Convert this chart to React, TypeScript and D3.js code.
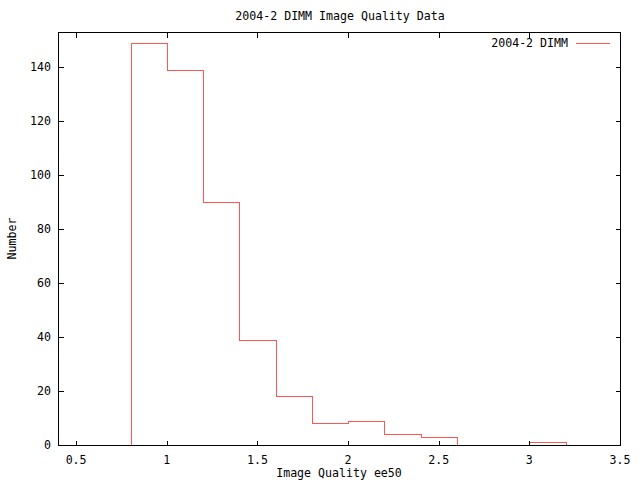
import React from "react";
import * as d3 from "d3";

const binStarts = [0.8, 1.0, 1.2, 1.4, 1.6, 1.8, 2.0, 2.2, 2.4, 2.6, 2.8, 3.0];
const binCounts = [149, 139, 90, 39, 18, 8, 9, 4, 3, 0, 0, 1];
const binWidth = 0.2;
const xTicks = [0.5, 1, 1.5, 2, 2.5, 3, 3.5];
const yTicks = [0, 20, 40, 60, 80, 100, 120, 140];

const W = 640, H = 480;
const M = { left: 58, right: 620, top: 32, bottom: 445 };
const FONT = "'DejaVu Sans Mono', monospace";

export default function App() {
  const x = d3.scaleLinear().domain([0.4, 3.5]).range([M.left, M.right]);
  const y = d3.scaleLinear().domain([0, 153]).range([M.bottom, M.top]);

  const pts: [number, number][] = [[binStarts[0], 0]];
  binStarts.forEach((s, i) => {
    pts.push([s, binCounts[i]]);
    pts.push([s + binWidth, binCounts[i]]);
  });
  pts.push([binStarts[binStarts.length - 1] + binWidth, 0]);
  const line = d3.line<[number, number]>()
    .x(d => Math.round(x(d[0])) + 0.5)
    .y(d => Math.round(y(d[1])) + 0.5);

  const tl = 5;
  const px = (v: number) => Math.round(x(v)) + 0.5;
  const py = (v: number) => Math.round(y(v)) + 0.5;

  return (
    <svg width={W} height={H} style={{ position: "absolute", left: 0, top: 0, background: "#fff" }}
      fontFamily={FONT} fontSize={11.6}>
      <rect x={0} y={0} width={W} height={H} fill="#fff" />
      <text x={(M.left + M.right) / 2 + 1} y={20} textAnchor="middle">2004-2 DIMM Image Quality Data</text>
      <path d={line(pts) || ""} fill="none" stroke="#ff5555" strokeWidth={1} shapeRendering="crispEdges" />
      <g stroke="#000" strokeWidth={1} shapeRendering="crispEdges">
        {yTicks.map(t => (
          <g key={"y" + t}>
            <line x1={M.left + 0.5} x2={M.left + 0.5 + tl} y1={py(t)} y2={py(t)} />
            <line x1={M.right + 0.5} x2={M.right + 0.5 - tl} y1={py(t)} y2={py(t)} />
          </g>
        ))}
        {xTicks.map(t => (
          <g key={"x" + t}>
            <line x1={px(t)} x2={px(t)} y1={M.bottom + 0.5} y2={M.bottom + 0.5 - tl} />
            <line x1={px(t)} x2={px(t)} y1={M.top + 0.5} y2={M.top + 0.5 + tl} />
          </g>
        ))}
        <rect x={M.left + 0.5} y={M.top + 0.5} width={M.right - M.left} height={M.bottom - M.top} fill="none" />
      </g>
      {yTicks.map(t => (
        <text key={"yl" + t} x={51} y={y(t) + 4} textAnchor="end">{t}</text>
      ))}
      {xTicks.map(t => (
        <text key={"xl" + t} x={x(t)} y={464} textAnchor="middle">{t}</text>
      ))}
      <text x={(M.left + M.right) / 2} y={477} textAnchor="middle">Image Quality ee50</text>
      <text transform={`translate(16,${(M.top + M.bottom) / 2}) rotate(-90)`} textAnchor="middle">Number</text>
      <text x={568} y={47} textAnchor="end">2004-2 DIMM</text>
      <line x1={576} x2={610} y1={43.5} y2={43.5} stroke="#ff5555" strokeWidth={1} shapeRendering="crispEdges" />
    </svg>
  );
}
